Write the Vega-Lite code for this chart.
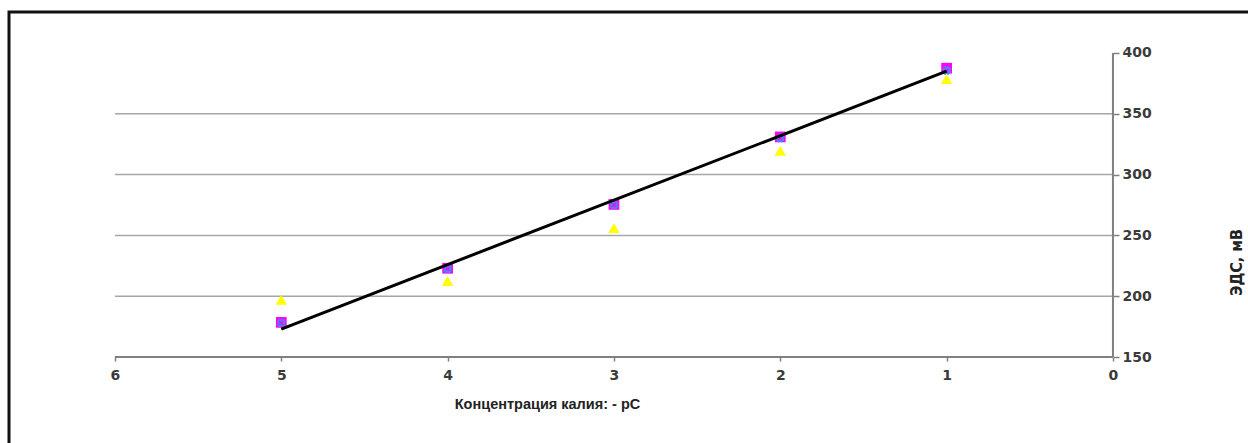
{
  "$schema": "https://vega.github.io/schema/vega-lite/v6.json",
  "width": 1245,
  "height": 440,
  "autosize": {"type": "none"},
  "padding": {"left": 9, "top": 12, "right": 0, "bottom": 0},
  "background": "white",
  "config": {
    "view": {"stroke": "#111111", "strokeWidth": 3},
    "font": "Liberation Sans"
  },
  "data": {
    "values": [
      {"series": "grid", "x": 6, "x2": 0, "y": 200},
      {"series": "grid", "x": 6, "x2": 0, "y": 250},
      {"series": "grid", "x": 6, "x2": 0, "y": 300},
      {"series": "grid", "x": 6, "x2": 0, "y": 350},
      {"series": "xaxis", "x": 6, "x2": 0, "y": 150},
      {"series": "yaxis", "x": 0, "y": 150, "y2": 400},
      {"series": "A", "x": 5, "y": 197},
      {"series": "A", "x": 4, "y": 212.5},
      {"series": "A", "x": 3, "y": 256},
      {"series": "A", "x": 2, "y": 319.5},
      {"series": "A", "x": 1, "y": 378.5},
      {"series": "B", "x": 5, "y": 178.5},
      {"series": "B", "x": 4, "y": 223},
      {"series": "B", "x": 3, "y": 275.5},
      {"series": "B", "x": 2, "y": 331},
      {"series": "B", "x": 1, "y": 387.5},
      {"series": "C", "x": 5, "y": 178},
      {"series": "C", "x": 4, "y": 222.5},
      {"series": "C", "x": 3, "y": 275},
      {"series": "C", "x": 2, "y": 330},
      {"series": "C", "x": 1, "y": 385.5},
      {"series": "trend", "x": 5, "y": 173},
      {"series": "trend", "x": 1, "y": 385}
    ]
  },
  "encoding": {
    "x": {
      "field": "x",
      "type": "quantitative",
      "scale": {"domain": [-0.848, 6.637], "reverse": true, "nice": false, "zero": false},
      "axis": {
        "values": [0, 1, 2, 3, 4, 5, 6],
        "format": "d",
        "offset": -95,
        "domain": false,
        "grid": false,
        "tickSize": 4,
        "tickColor": "#808080",
        "tickWidth": 1.5,
        "labelPadding": 7,
        "labelFont": "DejaVu Sans",
        "labelFontSize": 14,
        "labelFontWeight": "bold",
        "labelColor": "#3a3a3a",
        "title": "Концентрация калия:  - pC",
        "titleFont": "Liberation Sans",
        "titleFontSize": 14.5,
        "titleFontWeight": "bold",
        "titleColor": "#222222",
        "titleX": 538,
        "titlePadding": 15
      }
    },
    "y": {
      "field": "y",
      "type": "quantitative",
      "scale": {"domain": [71.9, 433.7], "nice": false, "zero": false},
      "axis": {
        "orient": "right",
        "values": [150, 200, 250, 300, 350, 400],
        "offset": -141,
        "domain": false,
        "grid": false,
        "tickSize": 6,
        "tickColor": "#808080",
        "tickWidth": 1.5,
        "labelPadding": 3,
        "labelFont": "DejaVu Sans",
        "labelFontSize": 14,
        "labelFontWeight": "bold",
        "labelColor": "#3a3a3a",
        "title": "ЭДС, мВ",
        "titleFont": "Liberation Sans Narrow, DejaVu Sans Condensed, Liberation Sans",
        "titleFontSize": 16,
        "titleFontWeight": "bold",
        "titleColor": "#222222",
        "titleAngle": 270,
        "titleAlign": "center",
        "titleBaseline": "middle",
        "titleX": 123,
        "titleY": 250
      }
    }
  },
  "layer": [
    {
      "transform": [{"filter": "datum.series === 'grid'"}],
      "mark": {"type": "rule", "color": "#a6a6a6", "strokeWidth": 1.5},
      "encoding": {"x2": {"field": "x2"}}
    },
    {
      "transform": [{"filter": "datum.series === 'xaxis'"}],
      "mark": {"type": "rule", "color": "#808080", "strokeWidth": 2},
      "encoding": {"x2": {"field": "x2"}}
    },
    {
      "transform": [{"filter": "datum.series === 'yaxis'"}],
      "mark": {"type": "rule", "color": "#808080", "strokeWidth": 2},
      "encoding": {"y2": {"field": "y2"}}
    },
    {
      "transform": [{"filter": "datum.series === 'A'"}],
      "mark": {"type": "point", "shape": "triangle-up", "filled": true, "color": "#ffff00", "opacity": 1, "size": 130}
    },
    {
      "transform": [{"filter": "datum.series === 'B'"}],
      "mark": {"type": "point", "shape": "square", "filled": true, "color": "#ff00ff", "opacity": 1, "size": 115}
    },
    {
      "transform": [{"filter": "datum.series === 'C'"}],
      "mark": {"type": "point", "shape": "cross", "filled": false, "color": "#3d8cf0", "opacity": 1, "size": 50, "strokeWidth": 1.5, "angle": 45}
    },
    {
      "transform": [{"filter": "datum.series === 'trend'"}],
      "mark": {"type": "line", "color": "#000000", "strokeWidth": 3}
    }
  ]
}
